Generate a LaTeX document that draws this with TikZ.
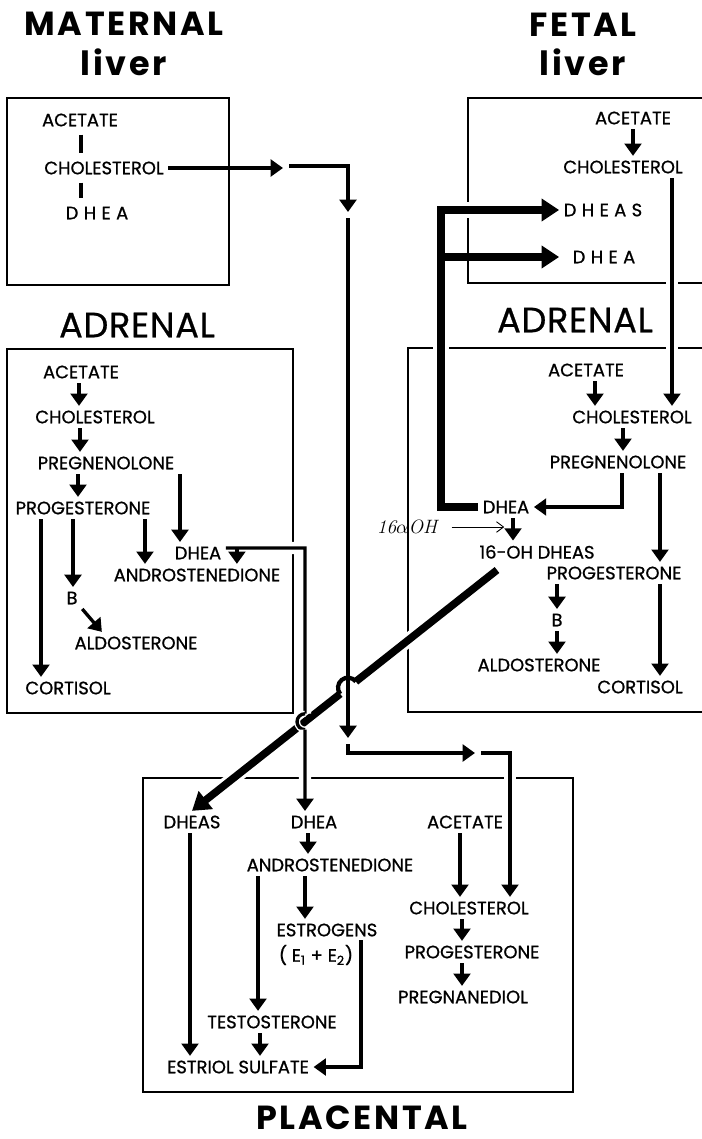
\documentclass[tikz,border=0pt]{standalone}
\usepackage{fontspec}
\usetikzlibrary{arrows.meta,calc}
\newfontfamily\labelfont{Poppins}[FakeBold=0.9]
\newfontfamily\organfont{Poppins}[FakeBold=0.6, LetterSpace=2]
\newfontfamily\titlefont{Poppins}[LetterSpace=8]
\newfontfamily\spacedfont{Poppins}[FakeBold=0.9, LetterSpace=30]

\tikzset{
  lbl/.style={font={\labelfont\fontsize{10.2}{11}\selectfont}, inner sep=2.5pt},
  spaced/.style={font={\spacedfont\fontsize{10.2}{11}\selectfont}, inner sep=2.5pt},
  heading/.style={font={\titlefont\bfseries\fontsize{19}{21}\selectfont}, inner sep=0pt},
  organ/.style={font={\organfont\fontsize{20}{22}\selectfont}, inner sep=0pt},
  wall/.style={line width=1.15pt},
  link/.style={line width=1.9pt},
  flow/.style={line width=1.9pt, -{Triangle[width=9.5pt,length=7pt]}},
  bigflow/.style={line width=4.3pt, -{Triangle[width=12.5pt,length=10pt]}},
  halo/.style={preaction={draw=white, line width=#1, -}},
  halo/.default=7pt,
  hint/.style={line width=0.5pt, -{Straight Barb[length=4pt,width=6pt]}},
  hop/.style={line width=2.4pt}
}

\begin{document}
\begin{tikzpicture}[x=0.02cm, y=-0.02cm]
  \useasboundingbox (0,0) rectangle (702,1139);
  % Organ names
  \node[heading] (matname) at (124,24) {MATERNAL};
  \node[heading] (matliver) at (124,62) {liver};
  \node[heading] (fetname) at (583,25) {FETAL};
  \node[heading] (fetliver) at (583,62) {liver};
  \node[organ] (ladrname) at (137,325) {ADRENAL};
  \node[organ] (radrname) at (575,320) {ADRENAL};
  \node[heading] (placname) at (362,1118) {PLACENTAL};

  % Organ walls, the fetal ones run off the right edge
  \begin{scope}[wall]
    \draw (7,98) rectangle (229,285);
    \draw (702,98) -- (468,98) -- (468,283) -- (702,283);
    \draw (7,349) rectangle (293,713);
    \draw (702,348) -- (408,348) -- (408,712) -- (702,712);
    \draw (143,778) rectangle (573,1092);
  \end{scope}

  % Maternal liver
  \node[lbl] (macet) at (80,120) {ACETATE};
  \node[lbl] (mchol) at (104,168) {CHOLESTEROL};
  \node[spaced] (mdhea) at (97,213) {DHEA};
  \begin{scope}[link, shorten <=2pt, shorten >=2pt]
    \draw ([xshift=0.02cm]macet.south) -- ([xshift=0.02cm]macet.south |- mchol.north);
    \draw ([xshift=0.02cm]macet.south |- mchol.south) -- ([xshift=0.02cm]macet.south |- mdhea.north);
  \end{scope}

  % Fetal liver
  \node[lbl] (facet) at (633,118) {ACETATE};
  \node[lbl] (fchol) at (623,167) {CHOLESTEROL};
  \node[spaced] (fdheas) at (603,210) {DHEAS};
  \node[spaced] (fdhea) at (604,257) {DHEA};
  \draw[flow] (facet.south) -- (facet.south |- fchol.north);

  % Maternal adrenal
  \node[lbl] (lacet) at (81,372) {ACETATE};
  \node[lbl] (lchol) at (95,417) {CHOLESTEROL};
  \node[lbl] (lpreg) at (106,463) {PREGNENOLONE};
  \node[lbl] (lprog) at (83,508) {PROGESTERONE};
  \node[lbl] (ldhea) at (198,553) {DHEA};
  \node[lbl] (landro) at (197,575) {ANDROSTENEDIONE};
  \node[lbl] (lb) at (72,598) {B};
  \node[lbl] (lald) at (136,643) {ALDOSTERONE};
  \node[lbl] (lcort) at (68,688) {CORTISOL};
  \begin{scope}[flow]
    \draw ([xshift=-0.04cm]lacet.south) -- ([xshift=-0.04cm]lacet.south |- lchol.north);
    \draw ([xshift=-0.3cm]lchol.south) -- ([xshift=-0.3cm]lchol.south |- lpreg.north);
    \draw ([xshift=-0.56cm]lpreg.south) -- ([xshift=-0.56cm]lpreg.south |- lprog.north);
    \draw ([xshift=1.48cm]lpreg.south) -- ([xshift=1.48cm]lpreg.south |- ldhea.north);
    \draw ([xshift=1.24cm]lprog.south) -- ([xshift=1.24cm]lprog.south |- landro.north);
    \draw ([xshift=-0.2cm]lprog.south) -- ([xshift=-0.2cm]lprog.south |- lb.north);
    \draw ([xshift=-0.84cm]lprog.south) -- ([xshift=-0.84cm]lprog.south |- lcort.north);
    \draw (lb.south east) -- ([xshift=0.64cm]lald.north west);
  \end{scope}

  % Fetal adrenal
  \node[lbl] (racet) at (586,370) {ACETATE};
  \node[lbl] (rchol) at (632,417) {CHOLESTEROL};
  \node[lbl] (rpreg) at (618,462) {PREGNENOLONE};
  \node[lbl] (rdhea) at (506,507) {DHEA};
  \node[lbl] (rohdheas) at (537,552) {16-OH DHEAS};
  \node[lbl] (rprog) at (614,573) {PROGESTERONE};
  \node[lbl] (rb) at (557,620) {B};
  \node[lbl] (rald) at (539,665) {ALDOSTERONE};
  \node[lbl] (rcort) at (640,687) {CORTISOL};
  \node[font={\fontsize{11}{12}\selectfont\itshape}, inner sep=2pt] (hyd) at (407,527) {16$\alpha$OH};
  \begin{scope}[flow]
    \draw ([xshift=0.18cm]racet.south) -- ([xshift=0.18cm]racet.south |- rchol.north);
    \draw ([xshift=-0.18cm]rchol.south) -- ([xshift=-0.18cm]rchol.south |- rpreg.north);
    \draw ([xshift=0.08cm]rpreg.south) |- (rdhea.east);
    \draw ([xshift=0.84cm]rpreg.south) -- ([xshift=0.84cm]rpreg.south |- rprog.north);
    \draw ([xshift=0.14cm]rdhea.south) -- ([xshift=0.14cm]rdhea.south |- rohdheas.north);
    \draw (rprog.south -| rb.north) -- (rb.north);
    \draw (rb.south) -- (rb.south |- rald.north);
    \draw ([xshift=0.92cm]rprog.south) -- ([xshift=0.92cm]rprog.south |- rcort.north);
  \end{scope}
  \draw[hint, shorten <=6pt, shorten >=1pt] (hyd.east) -- (hyd.east -| rdhea.south);
  % Fetal liver to fetal adrenal
  \draw[flow, halo] ([xshift=0.98cm]fchol.south) -- ([xshift=0.98cm]fchol.south |- rchol.north);
  % Fetal adrenal DHEA back to the liver
  \coordinate (fbend) at (441,210);
  \draw[bigflow, halo=9.5pt] (rdhea.west) -| (fbend) -- (fdheas.west);
  \draw[bigflow] (fbend |- fdhea) -- (fdheas.west |- fdhea);

  % Placental
  \node[lbl] (pdheas) at (192,822) {DHEAS};
  \node[lbl] (pdhea) at (314,822) {DHEA};
  \node[lbl] (pacet) at (465,822) {ACETATE};
  \node[lbl] (pandro) at (330,865) {ANDROSTENEDIONE};
  \node[lbl] (pestr) at (327,930) {ESTROGENS};
  \node[lbl] (pe) at (316,955) {( E\textsubscript{1} + E\textsubscript{2})};
  \node[lbl] (ptest) at (272,1022) {TESTOSTERONE};
  \node[lbl] (pestriol) at (238,1067) {ESTRIOL SULFATE};
  \node[lbl] (pchol) at (469,908) {CHOLESTEROL};
  \node[lbl] (pprog) at (472,952) {PROGESTERONE};
  \node[lbl] (ppregd) at (463,997) {PREGNANEDIOL};
  \begin{scope}[flow]
    \draw ([xshift=-0.04cm]pdheas.south) -- ([xshift=-0.04cm]pdheas.south |- pestriol.north);
    \draw ([xshift=-0.12cm]pdhea.south) -- ([xshift=-0.12cm]pdhea.south |- pandro.north);
    \draw ([xshift=-0.5cm]pandro.south) -- ([xshift=-0.5cm]pandro.south |- pestr.north);
    \draw ([xshift=-1.44cm]pandro.south) -- ([xshift=-1.44cm]pandro.south |- ptest.north);
    \draw ([xshift=-0.24cm]ptest.south) -- ([xshift=-0.24cm]ptest.south |- pestriol.north);
    \draw ([xshift=0.06cm]pe.north east) |- (pestriol.east);
    \draw ([xshift=-0.1cm]pacet.south) -- ([xshift=-0.1cm]pacet.south |- pchol.north);
    \draw ([xshift=-0.14cm]pchol.south) -- ([xshift=-0.14cm]pchol.south |- pprog.north);
    \draw ([xshift=-0.2cm]pprog.south) -- ([xshift=-0.2cm]pprog.south |- ppregd.north);
  \end{scope}

  % Maternal cholesterol route to the placenta, broken at each arrow
  \coordinate (mc1) at (283,168);
  \coordinate (mc2) at (289,166);
  \coordinate (mc3) at (348,212);
  \coordinate (mc4) at (348,218);
  \coordinate (mc5) at (348,738);
  \coordinate (mc6) at (348,744);
  \coordinate (mc7) at (475,753);
  \coordinate (mc8) at (481,753);

  % 16-OH DHEAS to placenta, bridged over the maternal route
  \coordinate (diagtop) at (497,570);
  \coordinate (hopc) at (intersection of diagtop--pdheas.north and mc4--mc5);
  \coordinate (hopu) at ($(hopc)!0.2cm!(diagtop)$);
  \coordinate (hopl) at ($(hopc)!0.2cm!(pdheas.north)$);
  \draw[bigflow, -, halo=8pt] (diagtop) -- (hopu);
  \draw[bigflow, halo=8pt] (hopl) -- (pdheas.north);

  \begin{scope}[flow]
    \draw (mchol.east) -- (mc1);
    \draw (mc2) -| (mc3);
    \draw (mc4) -- (mc5);
    \draw (mc6) |- (mc7);
    \draw[halo] (mc8) -| ([xshift=0.82cm]pchol.north);
  \end{scope}
  \draw[hop] (hopl) arc[start angle=141.5, end angle=321.5, radius=10];

  % Maternal adrenal DHEA to placenta, hopping the thick line
  \coordinate (ldheaout) at ([yshift=0.1cm]ldhea.east);
  \coordinate (lturn) at ([xshift=-0.18cm]ldheaout -| pdhea.north);
  \coordinate (ldown) at ([xshift=-0.18cm]pdhea.north);
  \coordinate (hopd) at (intersection of diagtop--pdheas.north and lturn--ldown);
  \draw[link, halo] (ldheaout) -- (lturn) -- ([yshift=0.16cm]hopd);
  \draw[link, halo=3.5pt] ([yshift=0.16cm]hopd) arc[start angle=270, end angle=90, radius=8];
  \draw[flow, halo] ([yshift=-0.16cm]hopd) -- (ldown);
  \draw[flow] ([xshift=0.22cm]ldheaout) -- ([xshift=0.22cm]ldheaout |- landro.north);
\end{tikzpicture}
\end{document}
